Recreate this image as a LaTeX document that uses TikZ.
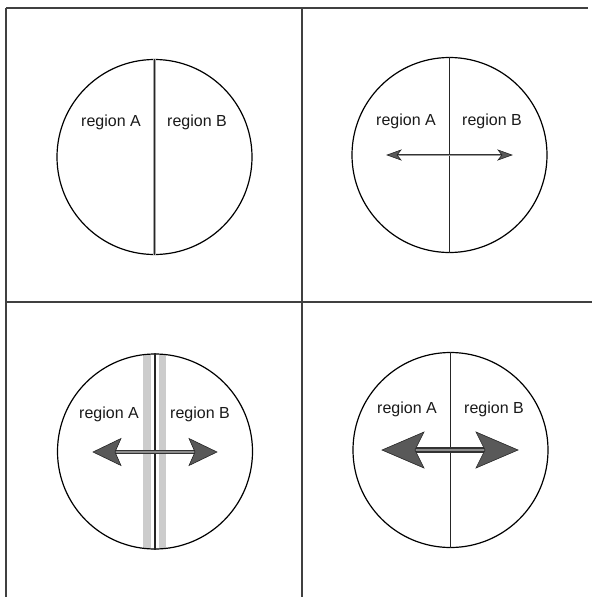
\documentclass[tikz,border=0pt]{standalone}
\usepackage{fontspec}
\setmainfont{Liberation Sans}
\begin{document}
\begin{tikzpicture}[x=1pt,y=-1pt,
  frameline/.style={draw=black!75,line width=1.2pt},
  disc/.style={circle,draw=black,line width=1.2pt,inner sep=0pt,minimum size=195pt},
  lbl/.style={font=\fontsize{16}{18}\selectfont,anchor=base,inner sep=0pt,text=black!90},
  divider/.style={draw=black!85,line width=1.1pt},
  band/.style={fill=black!20},
  headstyle/.style={fill=black!65,draw=black!85,line width=0.6pt,line join=miter}
]
\useasboundingbox (0,0) rectangle (592,597);
% frame
\draw[frameline,line width=1.8pt] (6,8) -- (6,597);
\draw[frameline] (6,8) -- (588,8);
\draw[frameline] (302,8) -- (302,597);
\draw[frameline] (6,302) -- (592,302);

% ---------- panel 1 ----------
\node[disc] (c1) at (154.5,157) {};
\draw[draw=black!35,line width=3.4pt] (c1.north) -- (c1.south);
\draw[draw=black!85,line width=1.4pt] (c1.north) -- (c1.south);
\node[lbl] (a1) at (111,126) {region A};
\node[lbl] (b1) at (197,126) {region B};

% ---------- panel 2 ----------
\node[disc] (c2) at (449.5,155) {};
\draw[divider] (c2.north) -- (c2.south);
\node[lbl] (a2) at (406,125) {region A};
\node[lbl] (b2) at (492,125) {region B};
\coordinate (l2) at (387,155);
\coordinate (r2) at (512,155);
\draw[black!80,line width=2.2pt] ([xshift=10pt]l2) -- ([xshift=-10pt]r2);
\draw[black!40,line width=0.6pt] ([xshift=10pt]l2) -- ([xshift=-10pt]r2);
\filldraw[headstyle] (r2) -- ++(-14,-5) -- ++(4,5) -- ++(-4,5) -- cycle;
\filldraw[headstyle] (l2) -- ++(14,-5) -- ++(-4,5) -- ++(4,5) -- cycle;

% ---------- panel 3 ----------
\coordinate (o3) at (155,451.5);
\begin{scope}
  \clip (o3) circle (97.5);
  \fill[band] (143,340) rectangle (151,560);
  \fill[band] (158.5,340) rectangle (166,560);
\end{scope}
\node[disc] (c3) at (o3) {};
\draw[divider] (c3.north) -- (c3.south);
\node[lbl] (a3) at (109,418) {region A};
\node[lbl] (b3) at (200,418) {region B};
\coordinate (l3) at (93,452);
\coordinate (r3) at (217,452);
\draw[black!80,line width=3.6pt] ([xshift=20pt]l3) -- ([xshift=-20pt]r3);
\draw[black!45,line width=1.2pt] ([xshift=20pt]l3) -- ([xshift=-20pt]r3);
\filldraw[headstyle] (r3) -- ++(-28,-13.5) -- ++(6,13.5) -- ++(-6,13.5) -- cycle;
\filldraw[headstyle] (l3) -- ++(28,-13.5) -- ++(-6,13.5) -- ++(6,13.5) -- cycle;

% ---------- panel 4 ----------
\node[disc] (c4) at (450.5,450) {};
\draw[divider] (c4.north) -- (c4.south);
\node[lbl] (a4) at (407,413) {region A};
\node[lbl] (b4) at (494,413) {region B};
\coordinate (l4) at (382,450);
\coordinate (r4) at (518,450);
\draw[black!80,line width=6pt] ([xshift=32pt]l4) -- ([xshift=-32pt]r4);
\draw[black!45,line width=2pt] ([xshift=32pt]l4) -- ([xshift=-32pt]r4);
\filldraw[headstyle] (r4) -- ++(-42,-18) -- ++(9,18) -- ++(-9,18) -- cycle;
\filldraw[headstyle] (l4) -- ++(42,-18) -- ++(-9,18) -- ++(9,18) -- cycle;
\end{tikzpicture}
\end{document}
